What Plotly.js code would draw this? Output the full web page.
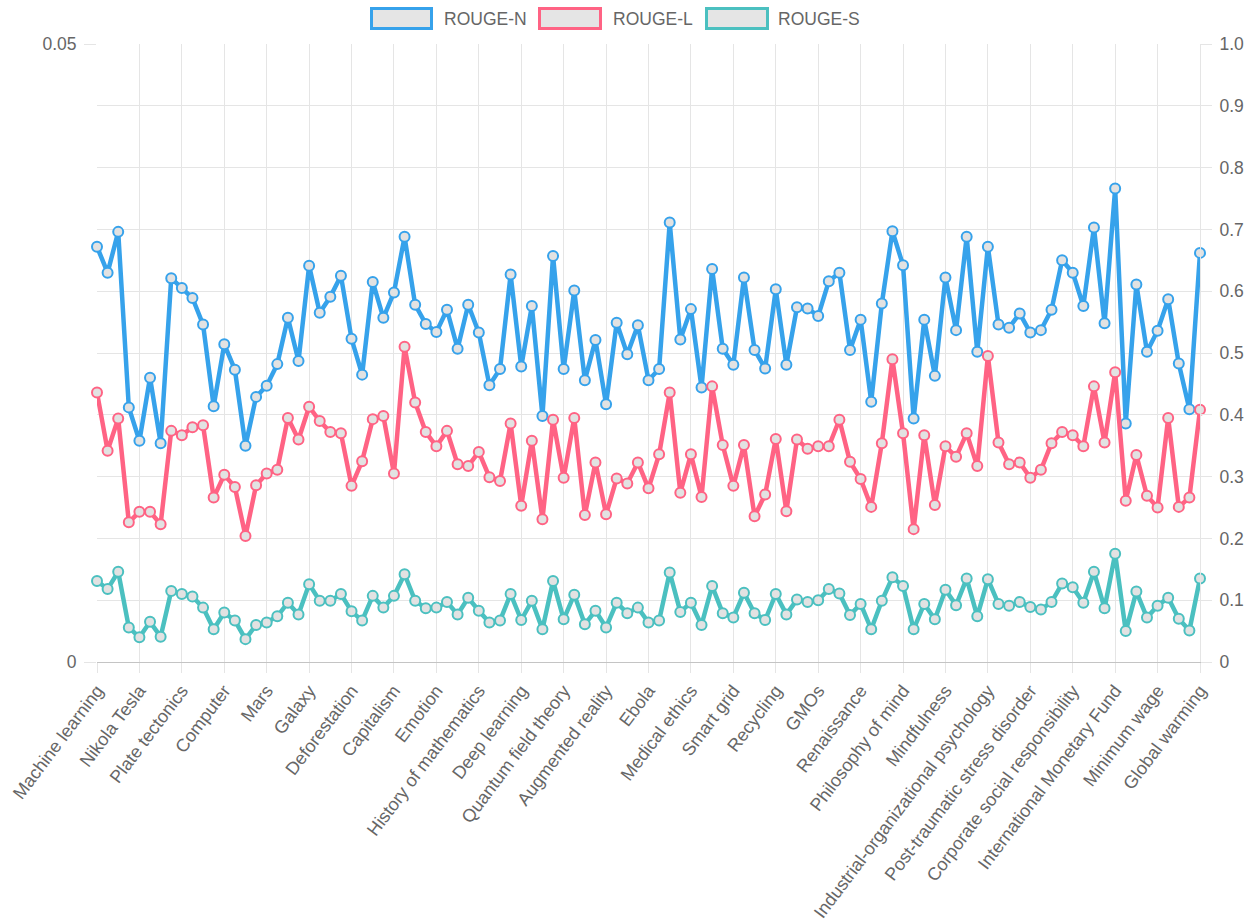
<!DOCTYPE html>
<html>
<head>
<meta charset="utf-8">
<script src="https://cdn.plot.ly/plotly-3.0.1.min.js"></script>
<style>
  html, body { margin: 0; padding: 0; background: #ffffff; }
  #chart { width: 1255px; height: 924px; }
</style>
</head>
<body>
<div id="chart"></div>
<script>
// ---- Data ----
const seriesNames = ['ROUGE-N', 'ROUGE-L', 'ROUGE-S'];

// Category labels shown on the x axis (every 4th of 105 topics)
const shownLabels = [
  'Machine learning', 'Nikola Tesla', 'Plate tectonics', 'Computer', 'Mars', 'Galaxy',
  'Deforestation', 'Capitalism', 'Emotion', 'History of mathematics', 'Deep learning',
  'Quantum field theory', 'Augmented reality', 'Ebola', 'Medical ethics', 'Smart grid',
  'Recycling', 'GMOs', 'Renaissance', 'Philosophy of mind', 'Mindfulness',
  'Industrial-organizational psychology', 'Post-traumatic stress disorder',
  'Corporate social responsibility', 'International Monetary Fund', 'Minimum wage',
  'Global warming'
];

const rougeN = [
  0.672, 0.630, 0.696, 0.412, 0.358, 0.460, 0.354, 0.621, 0.605, 0.589,
  0.546, 0.414, 0.514, 0.473, 0.350, 0.429, 0.447, 0.482, 0.557, 0.487,
  0.641, 0.565, 0.591, 0.625, 0.523, 0.465, 0.615, 0.557, 0.598, 0.688,
  0.578, 0.547, 0.534, 0.570, 0.507, 0.578, 0.533, 0.448, 0.474, 0.627,
  0.478, 0.576, 0.398, 0.657, 0.474, 0.601, 0.456, 0.521, 0.417, 0.549,
  0.498, 0.545, 0.456, 0.474, 0.711, 0.522, 0.571, 0.444, 0.636, 0.507,
  0.481, 0.622, 0.505, 0.475, 0.603, 0.481, 0.574, 0.572, 0.560, 0.616,
  0.630, 0.505, 0.554, 0.421, 0.580, 0.697, 0.642, 0.394, 0.554, 0.463,
  0.622, 0.537, 0.688, 0.502, 0.672, 0.546, 0.541, 0.564, 0.533, 0.537,
  0.570, 0.650, 0.630, 0.576, 0.703, 0.548, 0.766, 0.386, 0.611, 0.502,
  0.536, 0.587, 0.483, 0.409, 0.662
];

const rougeL = [
  0.436, 0.342, 0.394, 0.226, 0.243, 0.243, 0.223, 0.374, 0.367, 0.380,
  0.383, 0.266, 0.303, 0.283, 0.204, 0.286, 0.305, 0.311, 0.395, 0.360,
  0.413, 0.390, 0.372, 0.370, 0.285, 0.325, 0.393, 0.398, 0.305, 0.510,
  0.420, 0.372, 0.349, 0.374, 0.320, 0.317, 0.340, 0.299, 0.293, 0.386,
  0.253, 0.358, 0.231, 0.392, 0.298, 0.395, 0.238, 0.323, 0.239, 0.297,
  0.289, 0.323, 0.281, 0.336, 0.436, 0.274, 0.336, 0.267, 0.446, 0.351,
  0.285, 0.351, 0.236, 0.271, 0.361, 0.244, 0.360, 0.345, 0.349, 0.349,
  0.392, 0.324, 0.296, 0.251, 0.354, 0.490, 0.370, 0.215, 0.367, 0.254,
  0.349, 0.332, 0.370, 0.317, 0.495, 0.355, 0.320, 0.323, 0.298, 0.311,
  0.354, 0.372, 0.367, 0.349, 0.446, 0.355, 0.469, 0.261, 0.335, 0.269,
  0.250, 0.395, 0.251, 0.266, 0.408
];

const rougeS = [
  0.131, 0.118, 0.146, 0.056, 0.040, 0.065, 0.041, 0.115, 0.110, 0.106,
  0.088, 0.053, 0.080, 0.067, 0.037, 0.060, 0.064, 0.074, 0.096, 0.077,
  0.126, 0.099, 0.099, 0.110, 0.082, 0.067, 0.107, 0.088, 0.107, 0.142,
  0.099, 0.087, 0.088, 0.097, 0.077, 0.104, 0.083, 0.064, 0.067, 0.110,
  0.068, 0.099, 0.053, 0.131, 0.069, 0.109, 0.061, 0.083, 0.056, 0.096,
  0.079, 0.088, 0.064, 0.067, 0.145, 0.081, 0.096, 0.060, 0.123, 0.079,
  0.072, 0.112, 0.079, 0.068, 0.110, 0.077, 0.101, 0.097, 0.100, 0.118,
  0.111, 0.076, 0.094, 0.053, 0.099, 0.137, 0.123, 0.053, 0.094, 0.069,
  0.117, 0.092, 0.135, 0.074, 0.134, 0.094, 0.091, 0.097, 0.089, 0.085,
  0.097, 0.127, 0.121, 0.096, 0.146, 0.087, 0.175, 0.050, 0.114, 0.072,
  0.091, 0.104, 0.070, 0.051, 0.135
];

// Axis tick labels
const leftTickVals = [0, 0.05];
const leftTickText = ['0', '0.05'];
const rightTickVals = [0, 0.1, 0.2, 0.3, 0.4, 0.5, 0.6, 0.7, 0.8, 0.9, 1.0];
const rightTickText = ['0', '0.1', '0.2', '0.3', '0.4', '0.5', '0.6', '0.7', '0.8', '0.9', '1.0'];

// ---- Styling ----
const colors = ['rgb(54,162,235)', 'rgb(255,99,132)', 'rgb(75,192,192)'];
const allSeries = [rougeN, rougeL, rougeS];
const labelStep = 4;
const FONT = 'Liberation Sans, Arial, Helvetica, sans-serif';
const TXT = '#666666';
const GRID = '#e5e5e5';

const W = 1255, H = 924;
const M = { l: 97, r: 55, t: 44, b: 262 };
const PW = W - M.l - M.r, PH = H - M.t - M.b;
const px2x = (px) => (px - M.l) / PW;
const px2y = (py) => (H - M.b - py) / PH;

const xIdx = rougeN.map((_, i) => i);
const tickVals = shownLabels.map((_, k) => k * labelStep);

// Empty trace so that the left (0 – 0.05) axis is drawn
const leftAxisHolder = {
  type: 'scatter', mode: 'markers', x: [null], y: [null],
  xaxis: 'x', yaxis: 'y', showlegend: false, hoverinfo: 'skip'
};

const traces = [leftAxisHolder].concat(allSeries.map((vals, s) => ({
  type: 'scatter',
  mode: 'lines+markers',
  name: seriesNames[s],
  x: xIdx,
  y: vals,
  xaxis: 'x',
  yaxis: 'y2',
  cliponaxis: false,
  line: { color: colors[s], width: 4.5 },
  marker: { symbol: 'circle', size: 10, color: '#e2e2e2', line: { color: colors[s], width: 2 } },
  showlegend: false,
  hoverinfo: 'x+y'
})));

// Custom legend (boxes + labels) drawn above the plot like the reference
const legendBoxes = [[371.5, 431.5], [539.5, 600.5], [706.5, 767.5]];
const legendTextX = [442, 611, 776];
const shapes = legendBoxes.map((b, s) => ({
  type: 'rect', xref: 'paper', yref: 'paper',
  x0: px2x(b[0]), x1: px2x(b[1]), y0: px2y(28.5), y1: px2y(8.5),
  fillcolor: '#e5e5e5', line: { color: colors[s], width: 3 }, layer: 'above'
}));
const annotations = seriesNames.map((n, s) => ({
  xref: 'paper', yref: 'paper', x: px2x(legendTextX[s]), y: px2y(19),
  xanchor: 'left', yanchor: 'middle', showarrow: false, text: n,
  font: { family: FONT, size: 17.5, color: TXT }
}));

const layout = {
  width: W, height: H,
  margin: M,
  paper_bgcolor: '#ffffff', plot_bgcolor: '#ffffff',
  font: { family: FONT, size: 17.5, color: TXT },
  showlegend: false,
  xaxis: {
    range: [0, rougeN.length - 1],
    tickmode: 'array', tickvals: tickVals, ticktext: shownLabels,
    tickangle: -53, tickfont: { family: FONT, size: 18, color: TXT },
    showgrid: true, gridcolor: GRID, gridwidth: 1,
    ticks: 'outside', ticklen: 10, tickcolor: GRID,
    zeroline: false, showline: true, linecolor: '#c4c4c4', linewidth: 1,
    automargin: false, fixedrange: true
  },
  yaxis: {
    range: [0, 0.05],
    tickmode: 'array', tickvals: leftTickVals, ticktext: leftTickText,
    ticks: 'outside', ticklen: 12, tickcolor: GRID, ticklabelstandoff: 4,
    showgrid: false, zeroline: false, showline: false,
    tickfont: { family: FONT, size: 17.5, color: TXT },
    automargin: false, fixedrange: true
  },
  yaxis2: {
    range: [0, 1],
    overlaying: 'y', side: 'right',
    tickmode: 'array', tickvals: rightTickVals, ticktext: rightTickText,
    ticks: 'outside', ticklen: 11, tickcolor: GRID, ticklabelstandoff: 4,
    showgrid: true, gridcolor: GRID, gridwidth: 1,
    zeroline: false, showline: true, linecolor: GRID,
    tickfont: { family: FONT, size: 17.5, color: TXT },
    automargin: false, fixedrange: true
  },
  shapes: shapes,
  annotations: annotations
};

Plotly.newPlot('chart', traces, layout, { displayModeBar: false });
</script>
</body>
</html>
